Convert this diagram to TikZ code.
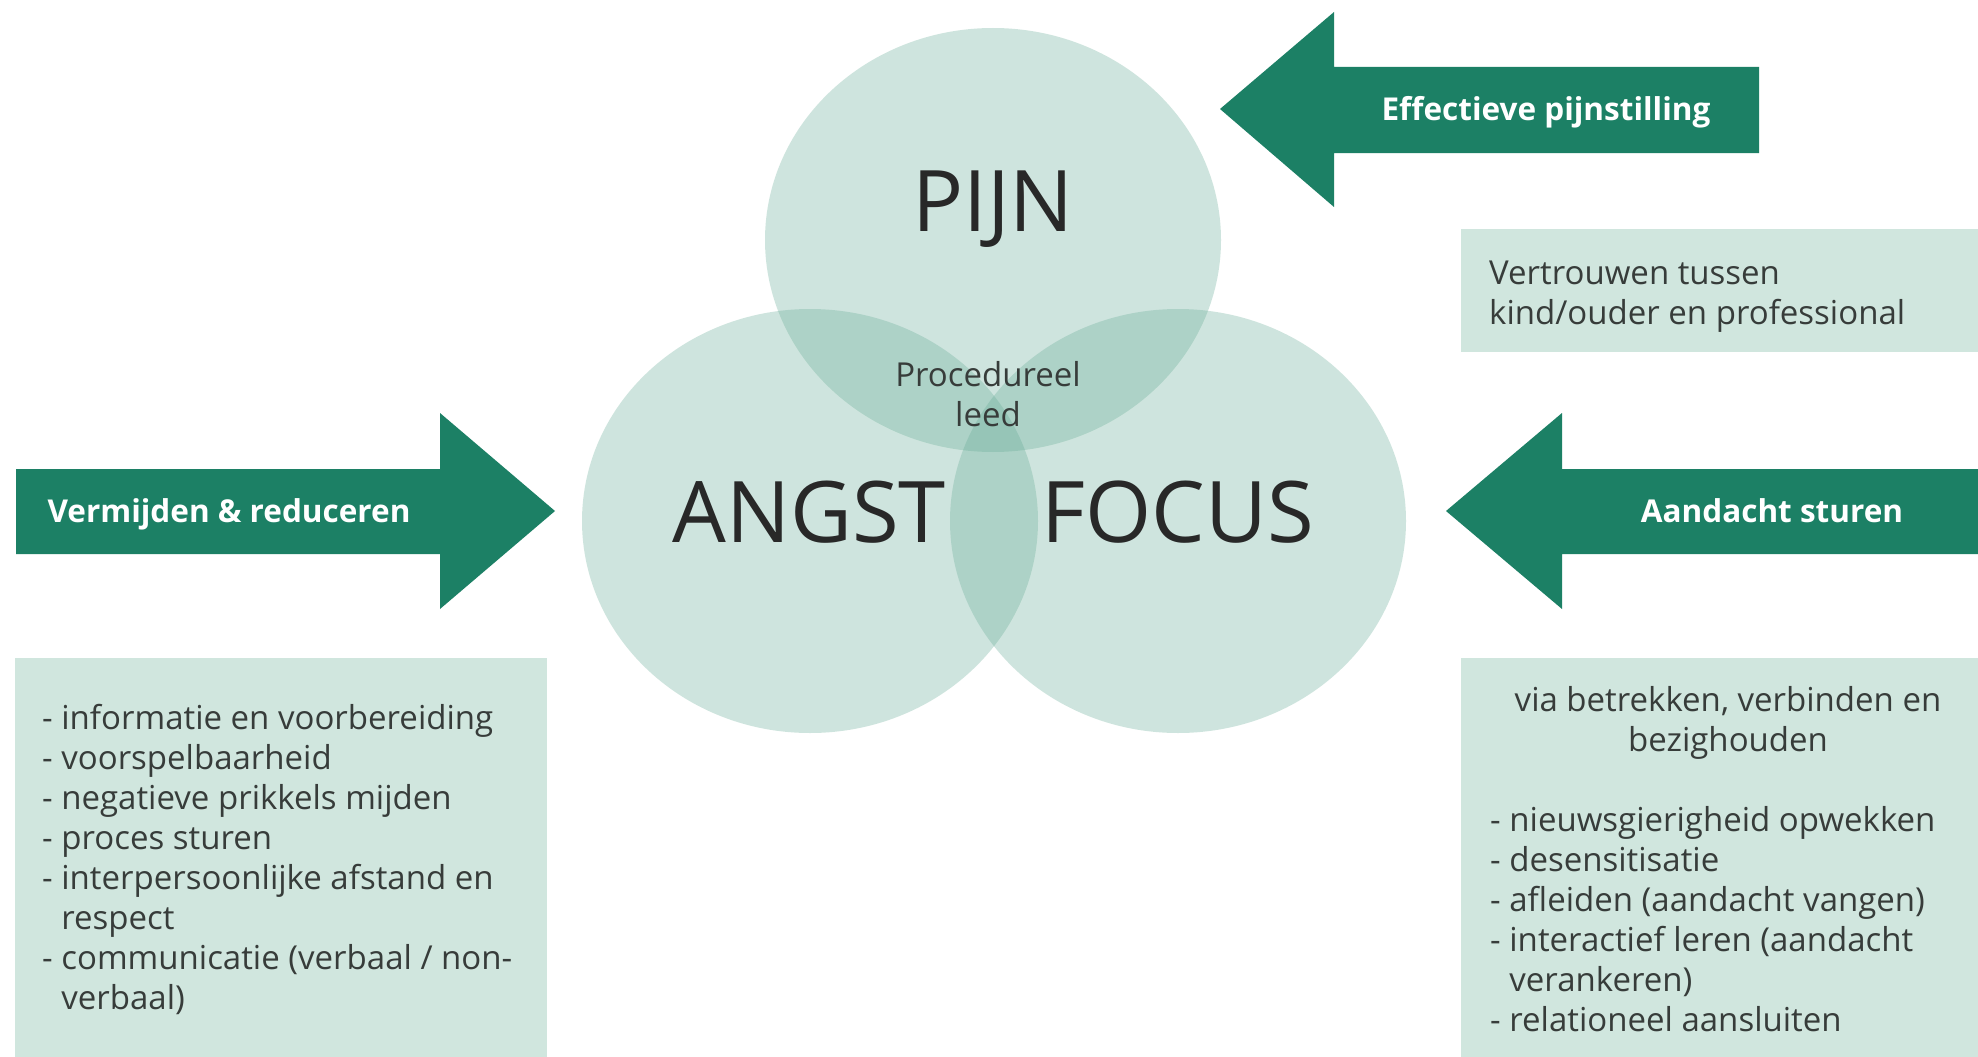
\documentclass[tikz,border=0pt]{standalone}
\usepackage{fontspec}
\setmainfont{Open Sans}
\definecolor{darkgreen}{RGB}{28,128,101}
\definecolor{circ}{RGB}{100,171,149}
\definecolor{boxfill}{RGB}{208,230,222}
\definecolor{txt}{RGB}{40,40,40}
\definecolor{boxtxt}{RGB}{55,60,58}
\begin{document}
\begin{tikzpicture}[x=1pt,y=-1pt,
  venn/.style={fill=circ, fill opacity=0.31, draw=none},
  bigword/.style={font=\fontsize{85}{90}\selectfont, text=txt, anchor=base, inner sep=0},
  midword/.style={font=\fontsize{33}{40}\selectfont, text=boxtxt, anchor=base, inner sep=0},
  arrowlabel/.style={font=\fontsize{31.5}{36}\selectfont\bfseries, text=white, anchor=base, inner sep=0},
  boxline/.style={font=\fontsize{33}{40}\selectfont, text=boxtxt, anchor=base west, inner sep=0},
  boxcenter/.style={font=\fontsize{33}{40}\selectfont, text=boxtxt, anchor=base, inner sep=0},
  panel/.style={fill=boxfill, draw=none},
  bigarrow/.style={fill=darkgreen, draw=none}]
\useasboundingbox (0,0) rectangle (1978,1057);
\fill[white] (0,0) rectangle (1978,1057);

% Venn circles
\fill[venn] (993,240) ellipse [x radius=228, y radius=212];
\fill[venn] (810,521) ellipse [x radius=228, y radius=212];
\fill[venn] (1178,521) ellipse [x radius=228, y radius=212];

\node[bigword] (pijn) at (993,231) {PIJN};
\node[bigword] (angst) at (809,542) {ANGST};
\node[bigword] (focus) at (1178,542) {FOCUS};
\node[midword] (proc) at (988,386) {Procedureel};
\node[midword] (leed) at (988,426) {leed};

% Arrows
\fill[bigarrow] (1759,67) -- (1334,67) -- (1334,12) -- (1220,109) -- (1334,207) -- (1334,153) -- (1759,153) -- cycle;
\fill[bigarrow] (16,469) -- (440,469) -- (440,413) -- (555,511) -- (440,609) -- (440,554) -- (16,554) -- cycle;
\fill[bigarrow] (1978,469) -- (1562,469) -- (1562,413) -- (1446,511) -- (1562,609) -- (1562,554) -- (1978,554) -- cycle;

\node[arrowlabel] (eff) at (1546,120) {Effectieve pijnstilling};
\node[arrowlabel] (verm) at (229,522) {Vermijden \& reduceren};
\node[arrowlabel] (aand) at (1772,522) {Aandacht sturen};

% Panels
\fill[panel] (1461,229) rectangle (1978,352);
\fill[panel] (15,658) rectangle (547,1057);
\fill[panel] (1461,658) rectangle (1978,1057);

\node[boxline] (v1) at (1489,284) {Vertrouwen tussen};
\node[boxline] (v2) at (1489,324) {kind/ouder en professional};

\foreach \t [count=\i] in {%
  {- informatie en voorbereiding},
  {- voorspelbaarheid},
  {- negatieve prikkels mijden},
  {- proces sturen},
  {- interpersoonlijke afstand en},
  {\hphantom{- }respect},
  {- communicatie (verbaal / non-},
  {\hphantom{- }verbaal)}}
  \node[boxline] (left\i) at (42,{689+40*\i}) {\t};

\node[boxcenter] (r1) at (1728,711) {via betrekken, verbinden en};
\node[boxcenter] (r2) at (1728,751) {bezighouden};
\foreach \t [count=\i] in {%
  {- nieuwsgierigheid opwekken},
  {- desensitisatie},
  {- afleiden (aandacht vangen)},
  {- interactief leren (aandacht},
  {\hphantom{- }verankeren)},
  {- relationeel aansluiten}}
  \node[boxline] (right\i) at (1490,{791+40*\i}) {\t};
\end{tikzpicture}
\end{document}
